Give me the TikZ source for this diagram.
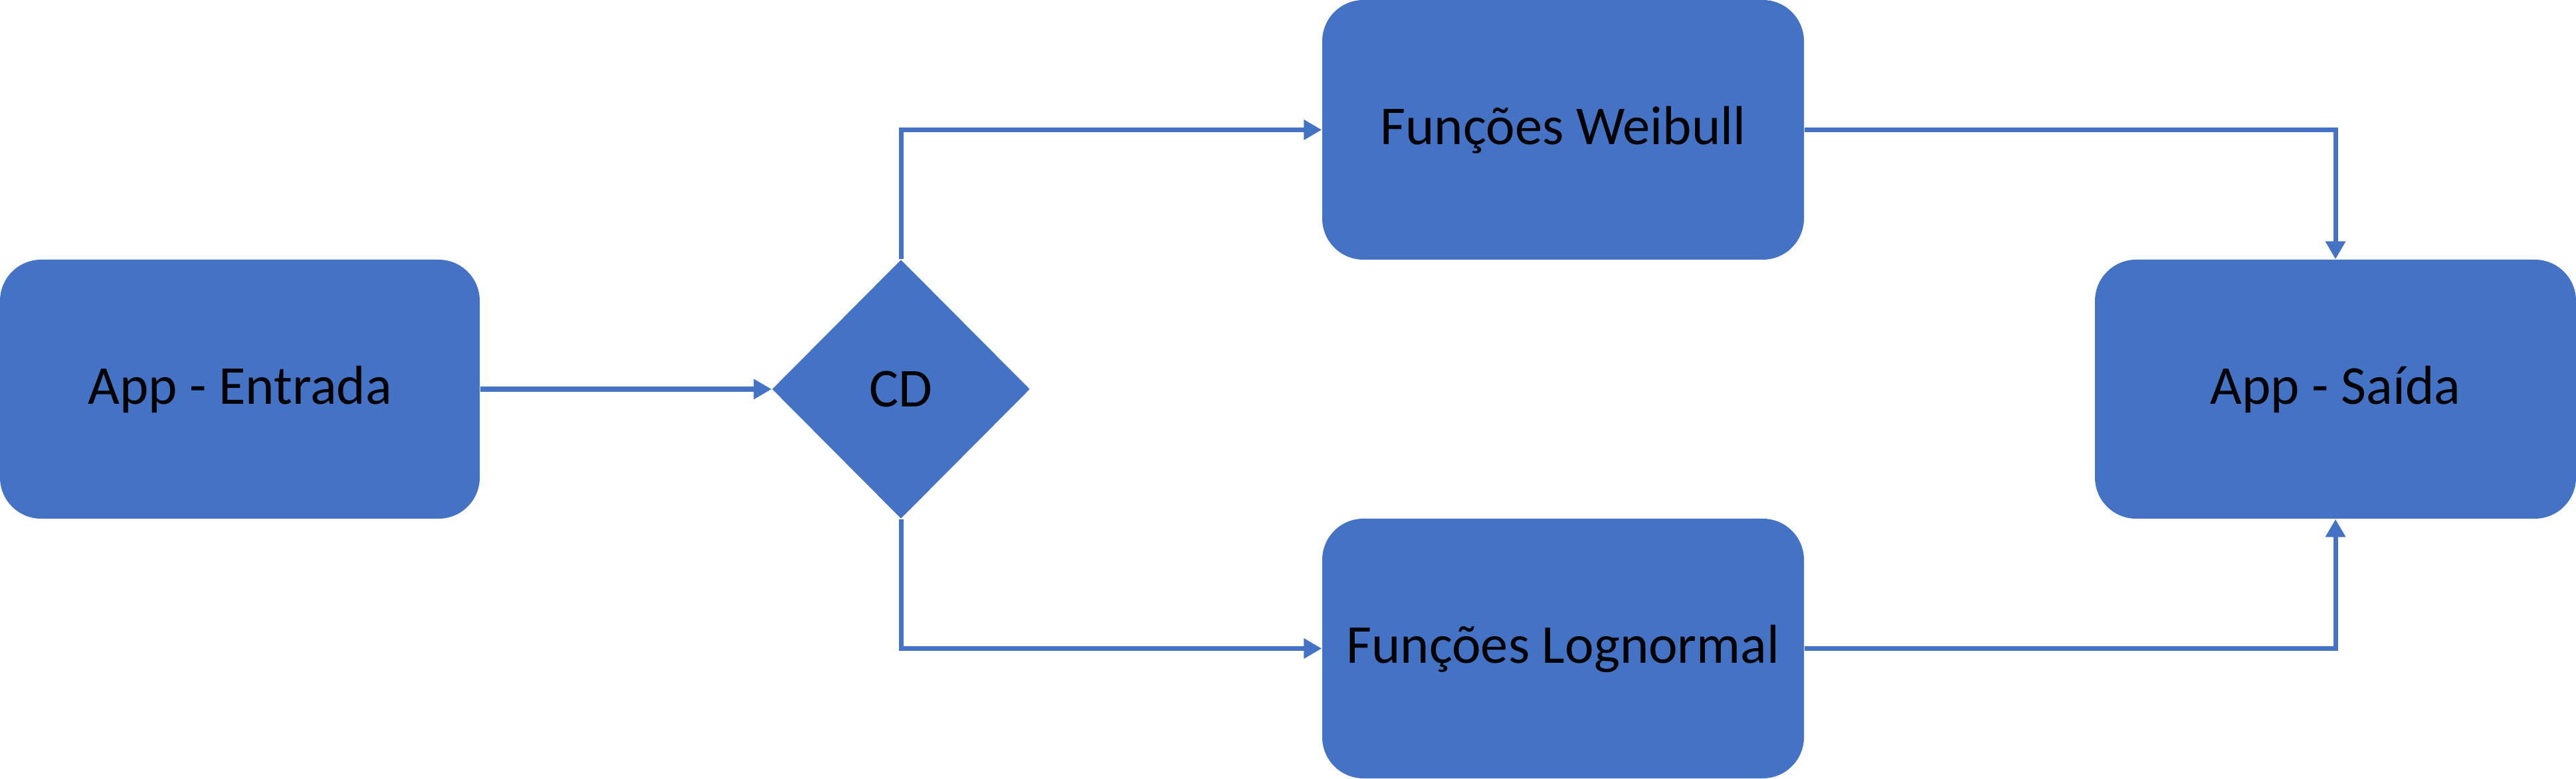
\documentclass[tikz,border=0pt]{standalone}
\usepackage{fontspec}
\setmainfont{Carlito}
\usetikzlibrary{shapes.geometric,arrows.meta}
\definecolor{boxblue}{HTML}{4472C4}
\begin{document}
\begin{tikzpicture}[
  boxnode/.style={fill=boxblue, draw=none, rounded corners=0.62cm, inner sep=0pt,
    font=\fontsize{23.5}{28}\selectfont, text=black},
  cdnode/.style={fill=boxblue, draw=none, shape=diamond, inner sep=0pt,
    minimum width=3.88cm, minimum height=3.90cm,
    font=\fontsize{23.5}{28}\selectfont, text=black},
  arr/.style={draw=boxblue, line width=2pt, -{Triangle[length=0.27cm,width=0.29cm]}}
]
\useasboundingbox (0,0) rectangle (38.77,11.72);
\node[boxnode, minimum width=7.22cm, minimum height=3.90cm] (ent) at (3.61,5.86) {App - Entrada};
\node[cdnode] (cd) at (13.56,5.86) {CD};
\node[boxnode, minimum width=7.25cm, minimum height=3.91cm] (wei) at (23.525,9.765) {Funções Weibull};
\node[boxnode, minimum width=7.25cm, minimum height=3.91cm] (log) at (23.525,1.955) {Funções Lognormal};
\node[boxnode, minimum width=7.24cm, minimum height=3.90cm] (sai) at (35.15,5.86) {App - Saída};
\draw[arr] (ent.east) -- (cd.west);
\draw[arr] (cd.north) |- (wei.west);
\draw[arr] (cd.south) |- (log.west);
\draw[arr] (wei.east) -| (sai.north);
\draw[arr] (log.east) -| (sai.south);
\end{tikzpicture}
\end{document}
